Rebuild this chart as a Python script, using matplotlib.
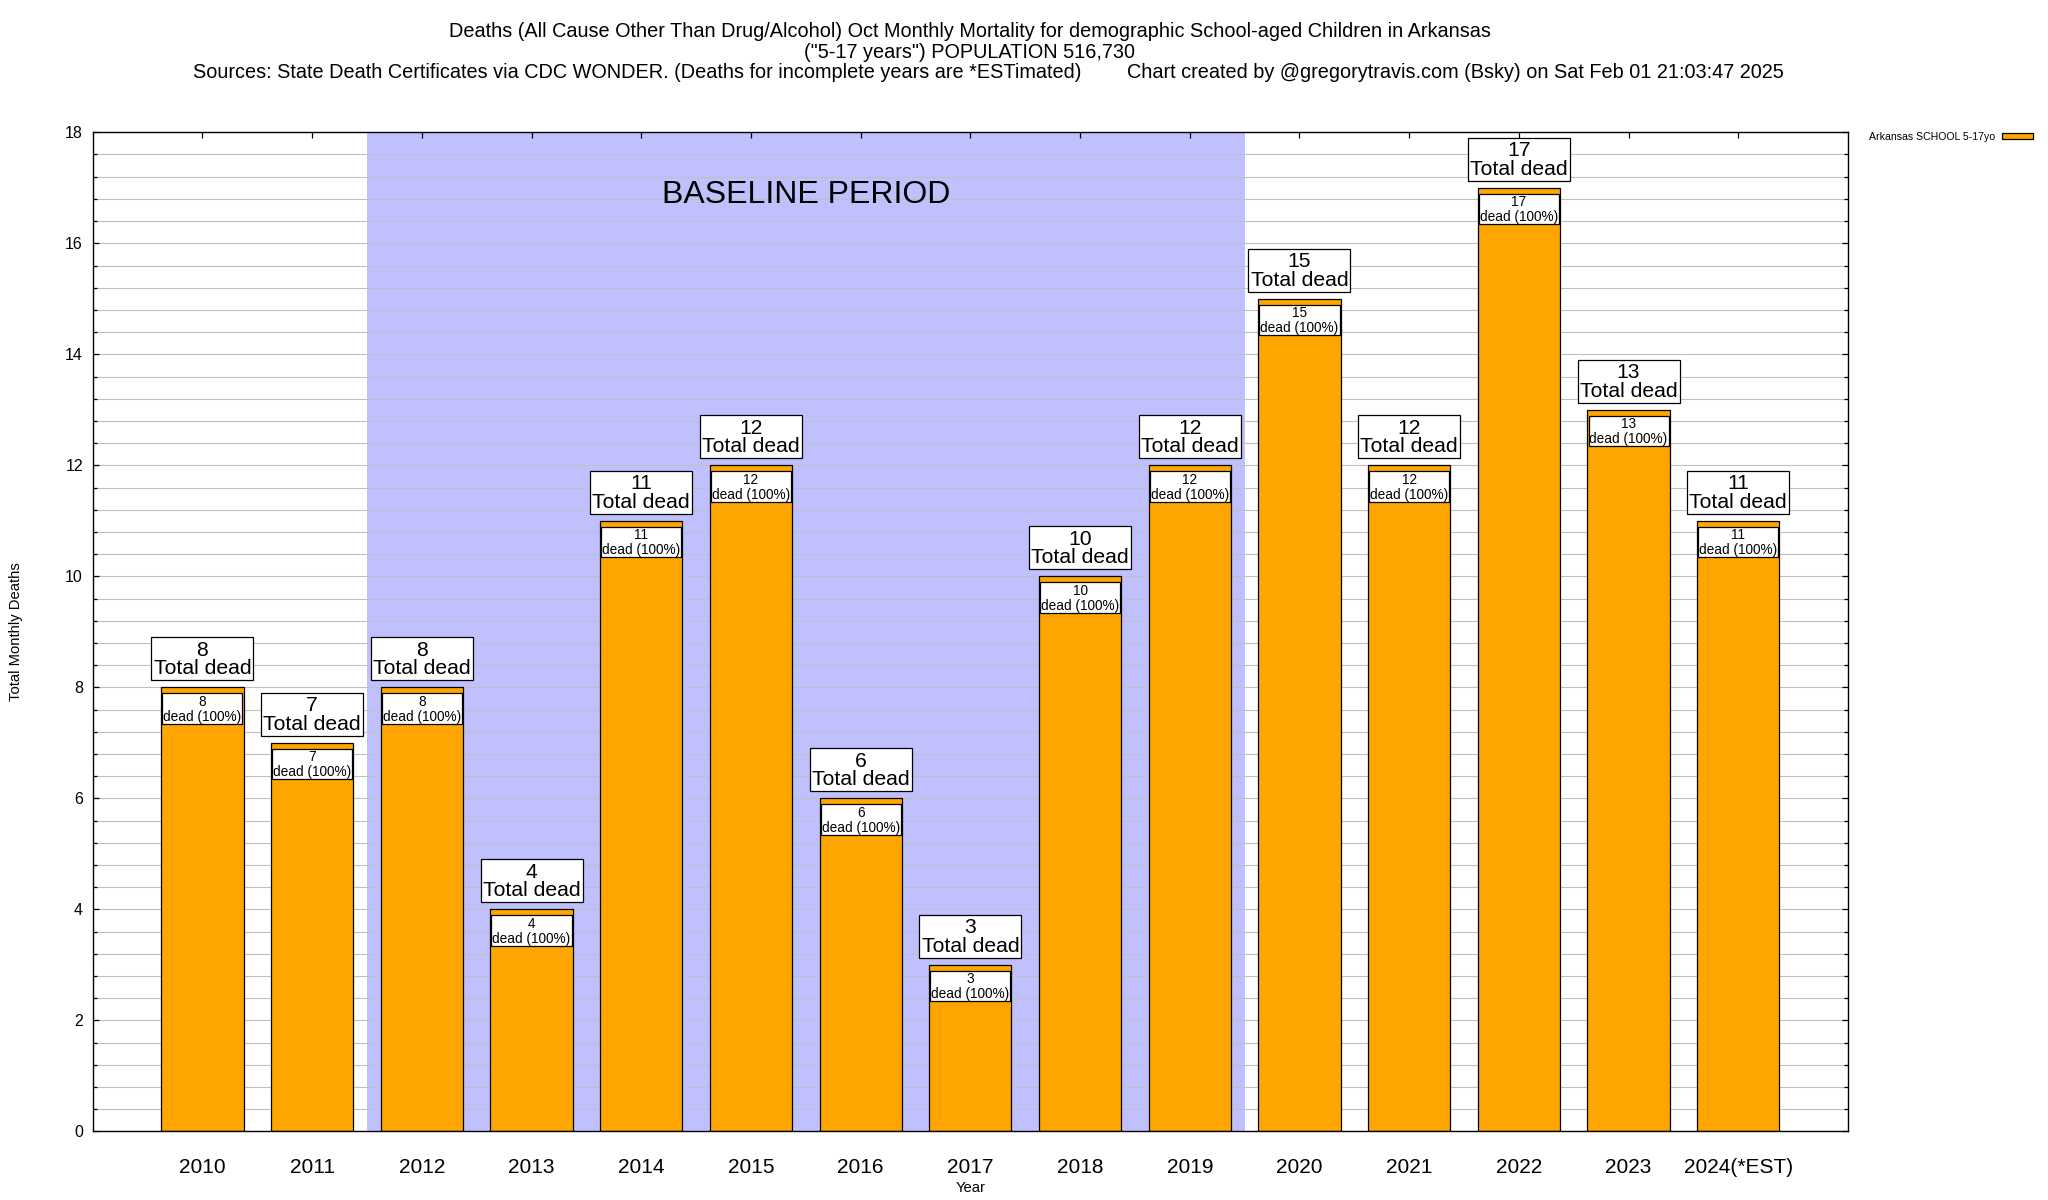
import matplotlib
matplotlib.use('Agg')
import matplotlib.pyplot as plt
from matplotlib.ticker import MultipleLocator

plt.rcParams['font.family'] = ['Liberation Sans', 'DejaVu Sans']

# ---- data ----
years = [2010, 2011, 2012, 2013, 2014, 2015, 2016, 2017, 2018, 2019,
         2020, 2021, 2022, 2023, 2024]
year_labels = ['2010', '2011', '2012', '2013', '2014', '2015', '2016', '2017',
               '2018', '2019', '2020', '2021', '2022', '2023', '2024(*EST)']
deaths = [8, 7, 8, 4, 11, 12, 6, 3, 10, 12, 15, 12, 17, 13, 11]
series_label = 'Arkansas SCHOOL 5-17yo'
baseline_start, baseline_end = 2011.5, 2019.5
baseline_text = 'BASELINE PERIOD'

title1 = 'Deaths (All Cause Other Than Drug/Alcohol) Oct Monthly Mortality for demographic School-aged Children in Arkansas'
title2 = '("5-17 years") POPULATION 516,730'
title3a = 'Sources: State Death Certificates via CDC WONDER. (Deaths for incomplete years are *ESTimated)'
title3b = 'Chart created by @gregorytravis.com (Bsky) on Sat Feb 01 21:03:47 2025'

# ---- layout (pixels) ----
W, H = 2048, 1200
L, R, T, B = 92.7, 1848.0, 132.3, 1131.3

fig = plt.figure(figsize=(W / 100, H / 100), dpi=100)
ax = fig.add_axes([L / W, 1 - B / H, (R - L) / W, (B - T) / H])
ax.set_xlim(2009, 2025)
ax.set_ylim(0, 18)

ax.axvspan(baseline_start, baseline_end, color='#C0C0FF', lw=0, zorder=0.1)
ax.set_axisbelow(True)
ax.yaxis.set_major_locator(MultipleLocator(2))
ax.yaxis.set_minor_locator(MultipleLocator(0.4))
ax.grid(axis='y', which='both', color='#C0C0C0', lw=0.8)

bars = ax.bar(years, deaths, width=0.75, color='#FFA500', edgecolor='black',
              lw=0.9, zorder=1, label=series_label)

n = len(years)
# inner white label boxes
ax.bar(years, [0.55] * n, bottom=[d - 0.66 for d in deaths], width=0.73,
       color='white', edgecolor='black', lw=0.9, zorder=1.5)
for x, d in zip(years, deaths):
    ax.text(x, d - 0.395, f'{d}\ndead (100%)', ha='center', va='center',
            fontsize=9.8, linespacing=1.08, zorder=3)

# outer label boxes
ax.bar(years, [0.775] * n, bottom=[d + 0.125 for d in deaths], width=0.93,
       color='white', edgecolor='black', lw=0.9, zorder=2)
for x, d in zip(years, deaths):
    ax.text(x, d + 0.5, f'{d}\nTotal dead', ha='center', va='center',
            fontsize=15.2, linespacing=0.98, zorder=3)

ax.text((baseline_start + baseline_end) / 2, 16.72, baseline_text,
        ha='center', va='baseline', fontsize=23, zorder=3)

ax.set_xticks(years)
ax.set_xticklabels(year_labels)
ax.tick_params(axis='both', which='both', direction='in', top=True, right=True,
               width=0.9)
ax.tick_params(axis='both', which='major', length=4.3)
ax.tick_params(axis='both', which='minor', length=2.9)
ax.tick_params(axis='x', labelsize=15, pad=19)
ax.tick_params(axis='y', labelsize=11.5, pad=7)
for s in ax.spines.values():
    s.set_linewidth(1.0)

ax.set_xlabel('Year', fontsize=10.6)
ax.xaxis.set_label_coords(0.5, -(1188 - B) / (B - T))
ax.xaxis.label.set_verticalalignment('center')
ax.set_ylabel('Total Monthly Deaths', fontsize=10.6)
ax.yaxis.set_label_coords(-(L - 16) / (R - L), 0.5)
ax.yaxis.label.set_verticalalignment('center')

ax.legend(handles=[bars], labels=[series_label], loc='center left',
          bbox_to_anchor=((1869 - L) / (R - L), (B - 137) / (B - T)),
          frameon=False, markerfirst=False, fontsize=7.6, handlelength=2.9,
          handleheight=0.45, borderpad=0, borderaxespad=0, handletextpad=0.66)

fig.text(970 / W, 1 - 37.3 / H, title1, ha='center', va='baseline', fontsize=14.3)
fig.text(970 / W, 1 - 57.7 / H, title2, ha='center', va='baseline', fontsize=14.3)
fig.text(1081.7 / W, 1 - 78.3 / H, title3a, ha='right', va='baseline', fontsize=14.3)
fig.text(1126.7 / W, 1 - 78.3 / H, title3b, ha='left', va='baseline', fontsize=14.3)

fig.savefig('out.png', dpi=100, facecolor='white')
